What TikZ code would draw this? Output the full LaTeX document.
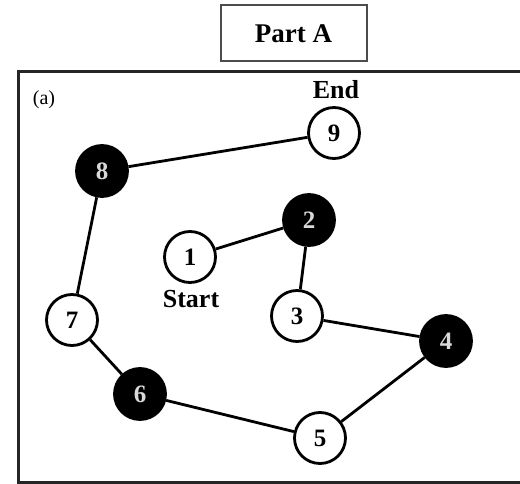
\documentclass[tikz,border=0pt]{standalone}
\usepackage{fontspec}
\setmainfont{Liberation Serif}
\begin{document}
\begin{tikzpicture}[x=1pt,y=-1pt,
  wnode/.style={circle,draw=black,line width=2.8pt,fill=white,minimum size=51pt,inner sep=0pt,
    font=\fontsize{25}{25}\selectfont\bfseries},
  bnode/.style={wnode,fill=black,text=white!85!black},
  link/.style={line width=2.8pt},
  lbl/.style={font=\fontsize{26}{26}\selectfont\bfseries,inner sep=0pt}]
\useasboundingbox (0,0) rectangle (520,484);
\clip (0,0) rectangle (520,484);
% outer frame
\draw[line width=3.5pt,black!85] (18.5,71.5) rectangle (540,482.5);
% title box
\node[draw=black!70,line width=2pt,minimum width=146pt,minimum height=56pt,inner sep=0pt,
  font=\fontsize{27}{27}\selectfont\bfseries] (title) at (293.5,33.5) {Part A};
\node[font=\fontsize{20}{20}\selectfont,inner sep=0pt] (tag) at (44,100) {(a)};
% path nodes
\node[wnode] (n1) at (190,257) {1};
\node[bnode] (n2) at (309,220) {2};
\node[wnode] (n3) at (297,316) {3};
\node[bnode] (n4) at (446,341) {4};
\node[wnode] (n5) at (320,438) {5};
\node[bnode] (n6) at (140,394) {6};
\node[wnode] (n7) at (72,320) {7};
\node[bnode] (n8) at (102,171) {8};
\node[wnode] (n9) at (334,133) {9};
% labels
\node[lbl] (start) at (191,299) {Start};
\node[lbl] (endlbl) at (336,90) {End};
% connectors
\draw[link] (n1) -- (n2);
\draw[link] (n2) -- (n3);
\draw[link] (n3) -- (n4);
\draw[link] (n4) -- (n5);
\draw[link] (n5) -- (n6);
\draw[link] (n6) -- (n7);
\draw[link] (n7) -- (n8);
\draw[link] (n8) -- (n9);
\end{tikzpicture}
\end{document}
